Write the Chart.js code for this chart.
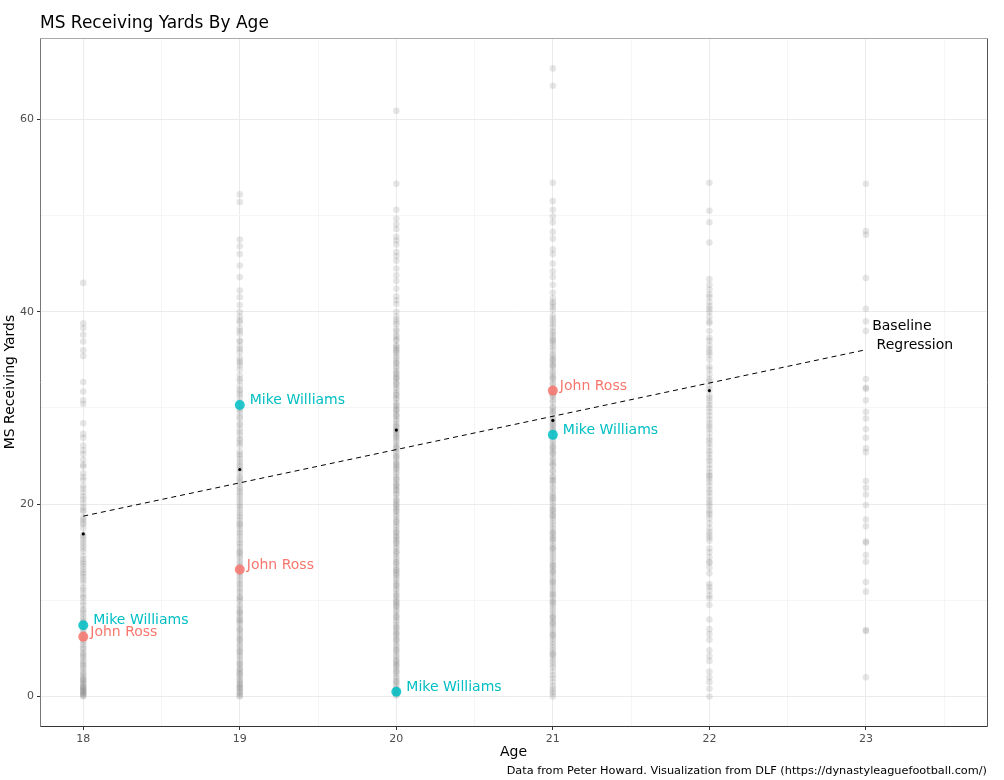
<!DOCTYPE html>
<html>
<head>
<meta charset="utf-8">
<script src="https://cdn.jsdelivr.net/npm/chart.js@4.4.1/dist/chart.umd.min.js"></script>
<style>
  html, body { margin: 0; padding: 0; background: #ffffff; }
  #wrap { width: 1004px; height: 780px; }
</style>
</head>
<body>
<div id="wrap"><canvas id="c" width="1004" height="780"></canvas></div>
<script>
// ---------- DATA ----------
const ages = [18, 19, 20, 21, 22, 23];

const age18Values = [43.0, 38.8, 38.3, 37.6, 36.9, 36.0, 35.4, 32.7, 31.7, 30.8, 30.4, 28.4, 27.3, 26.9, 26.1, 25.2, 24.6, 23.9, 23.2, 22.5, 21.9, 21.2, 20.5, 20.1, 19.7, 19.2, 18.6, 18.1, 17.5, 16.8, 16.3, 15.7, 15.1, 14.6, 14.0, 13.5, 12.9, 12.4, 11.8, 11.3, 10.7, 10.2, 9.8, 9.1, 8.6, 8.0, 7.6, 7.0, 6.5, 5.9, 5.4, 4.9, 4.4, 4.0, 3.5, 3.1, 2.6, 2.2, 1.8, 1.4, 1.1, 0.8, 0.5, 0.3, 0.1, 0.0, 0.6, 1.6, 2.4, 3.3, 4.6, 5.1, 6.8, 8.3, 9.5, 12.1, 13.8, 15.4, 17.9, 19.4, 21.6, 24.1, 0.2, 0.9, 1.3,
  0.4, 0.7, 1.0, 1.7, 2.0, 2.9, 3.7, 4.2, 5.7, 6.2, 7.3, 7.8, 8.9, 10.4, 11.1, 12.7, 13.2, 14.3, 16.0, 16.6, 18.4, 20.8, 22.8, 25.6];

const age19Values = [52.2, 51.4, 47.5, 46.8, 46.0, 44.8, 43.6, 42.2, 40.7, 40.0, 39.5, 38.9, 38.3, 37.7, 37.0, 36.4, 35.8, 35.2, 34.7, 34.0, 33.4, 32.8, 32.3, 31.7, 31.1, 30.6, 30.0, 29.5, 28.9, 28.4, 27.8, 27.2, 26.6, 26.1, 25.5, 25.0, 24.4, 23.9, 23.3, 22.7, 22.2, 21.6, 21.1, 20.5, 19.9, 19.4, 18.8, 18.3, 17.7, 17.1, 16.6, 16.0, 15.5, 14.9, 14.4, 13.8, 13.2, 12.7, 12.1, 11.6, 11.0, 10.4, 9.9, 9.3, 8.8, 8.2, 7.7, 7.1, 6.5, 6.0, 5.4, 4.9, 4.3, 3.8, 3.2, 2.6, 2.1, 1.5, 1.0, 0.6, 0.3, 0.0, 36.9, 34.4, 31.9, 29.1, 27.5, 26.3, 24.7, 23.6, 22.4, 21.3, 20.2, 19.1, 18.0, 16.9, 15.8, 14.6, 13.5, 12.4, 11.3, 10.1, 9.0, 7.9, 6.8, 5.7, 4.6, 3.5, 2.4, 1.3, 0.8, 0.4, 17.4, 15.2, 8.5, 2.9, 1.8,
  0.1, 0.9, 1.2, 1.7, 2.3, 2.8, 3.4, 4.1, 4.7, 5.2, 5.9, 6.3, 7.0, 7.5, 8.0, 8.7, 9.5, 10.3, 10.8, 11.8, 12.9, 14.0, 15.0, 16.3, 17.9, 18.6, 19.7, 20.8, 21.8, 22.9, 24.1, 25.2, 26.8, 28.2, 29.8, 31.4, 33.0, 34.9, 36.1, 38.0, 39.1, 41.5];

const age20Values = [60.9, 53.3, 50.6, 49.7, 48.6, 47.8, 47.0, 46.2, 45.3, 44.5, 43.2, 42.4, 41.6, 40.8, 40.0, 39.2, 38.7, 38.2, 37.6, 37.1, 36.5, 36.0, 35.4, 34.9, 34.3, 33.8, 33.2, 32.7, 32.1, 31.6, 31.0, 30.5, 29.9, 29.4, 28.8, 28.3, 27.7, 27.2, 26.6, 26.1, 25.5, 25.0, 24.4, 23.9, 23.3, 22.8, 22.2, 21.7, 21.1, 20.6, 20.0, 19.5, 18.9, 18.4, 17.8, 17.3, 16.7, 16.2, 15.6, 15.1, 14.5, 14.0, 13.4, 12.9, 12.3, 11.8, 11.2, 10.7, 10.1, 9.6, 9.0, 8.5, 7.9, 7.4, 6.8, 6.3, 5.7, 5.2, 4.6, 4.1, 3.5, 3.0, 2.4, 1.9, 1.3, 0.8, 0.4, 0.1, 38.9, 37.4, 35.7, 34.6, 33.5, 32.4, 31.3, 30.2, 29.1, 28.0, 26.9, 25.8, 24.7, 23.6, 22.5, 21.4, 20.3, 19.2, 18.1, 17.0, 15.9, 14.8, 13.7, 12.6, 11.5, 10.4, 9.3, 8.2, 7.1, 6.0, 4.9, 3.8, 2.7, 1.6, 0.6, 36.2, 33.0, 29.7, 27.4, 24.1, 21.9, 19.7, 16.4, 13.1, 9.8, 6.5, 3.3,
  0.2, 0.5, 1.0, 1.5, 2.1, 2.6, 3.2, 3.7, 4.3, 4.8, 5.4, 5.9, 6.6, 7.2, 7.7, 8.3, 8.8, 9.4, 9.9, 10.5, 11.0, 11.6, 12.1, 12.7, 13.2, 13.9, 14.3, 15.0, 15.4, 16.0, 16.6, 17.1, 17.6, 18.2, 18.7, 19.3, 19.9, 20.4, 21.0, 21.5, 22.0, 22.6, 23.1, 23.7, 24.2, 24.9, 25.3, 25.9, 26.4, 27.0, 27.6, 28.1, 28.6, 29.2, 29.8, 30.3, 30.9, 31.4, 31.9, 32.5, 33.1, 33.6, 34.1, 34.7, 35.2, 35.9, 36.4, 37.0, 38.0, 39.5, 41.2, 43.8, 45.8, 47.4, 49.1];

const age21Values = [65.3, 63.5, 53.4, 51.5, 50.6, 49.9, 49.3, 47.6, 46.5, 45.0, 43.6, 42.8, 42.0, 41.4, 40.8, 40.2, 39.6, 39.0, 38.4, 37.8, 37.2, 36.6, 36.0, 35.4, 34.8, 34.2, 33.6, 33.0, 32.4, 31.8, 31.2, 30.6, 30.0, 29.4, 28.8, 28.2, 27.6, 27.0, 26.4, 25.8, 25.2, 24.6, 24.0, 23.4, 22.8, 22.2, 21.6, 21.0, 20.4, 19.8, 19.2, 18.6, 18.0, 17.4, 16.8, 16.2, 15.6, 15.0, 14.4, 13.8, 13.2, 12.6, 12.0, 11.4, 10.8, 10.2, 9.6, 9.0, 8.4, 7.8, 7.2, 6.6, 6.0, 5.4, 4.8, 4.2, 3.6, 3.0, 2.2, 1.5, 0.8, 0.3, 0.0, 40.5, 38.7, 36.9, 35.1, 33.3, 31.5, 29.7, 27.9, 26.1, 24.3, 22.5, 20.7, 18.9, 17.1, 15.3, 13.5, 11.7, 9.9, 8.1, 6.3, 4.5, 37.5, 34.5, 28.5, 25.5, 19.5, 16.5, 13.0, 10.5, 7.5,
  0.5, 1.1, 1.9, 2.6, 3.3, 3.9, 4.4, 5.1, 5.7, 6.4, 6.9, 7.6, 8.2, 8.7, 9.3, 9.8, 10.6, 11.1, 11.9, 12.3, 12.9, 13.6, 14.1, 14.7, 15.4, 15.9, 16.4, 17.0, 17.7, 18.3, 18.8, 19.4, 20.1, 20.6, 21.2, 21.8, 22.4, 22.9, 23.5, 24.1, 24.8, 25.3, 25.9, 26.6, 27.1, 27.7, 28.3, 28.9, 29.5, 30.1, 30.8, 31.3, 32.0, 32.6, 33.1, 33.8, 34.4, 35.0, 35.6, 36.3, 37.0, 38.0, 39.3, 41.0, 44.2, 46.0, 48.3];

const age22Values = [53.4, 50.5, 49.3, 47.2, 43.4, 42.8, 42.3, 41.8, 41.0, 40.3, 39.5, 38.8, 38.0, 37.3, 36.5, 35.8, 35.0, 34.3, 33.5, 32.8, 31.9, 31.0, 30.3, 29.6, 28.8, 28.1, 27.4, 26.6, 25.9, 25.2, 24.5, 23.7, 23.0, 22.3, 21.5, 20.8, 20.1, 19.4, 18.9, 18.0, 17.1, 16.2, 15.4, 14.5, 13.4, 11.7, 11.0, 10.5, 9.5, 8.0, 7.0, 5.9, 4.8, 3.7, 2.6, 1.5, 0.8, 0.0, 40.6, 36.1, 33.0, 30.7, 28.4, 26.9, 25.5, 24.1, 22.6, 21.2, 19.8, 16.8, 14.0,
  10.2, 11.4, 12.8, 13.9, 15.0, 16.5, 17.5, 18.5, 19.1, 20.4, 21.9, 22.9, 23.3, 24.8, 26.3, 27.8, 29.2, 30.0, 31.3, 32.3, 34.0, 35.5, 37.0, 39.0, 40.0, 41.5, 2.0, 4.2, 6.5];

const age23Values = [53.3, 48.4, 48.0, 43.5, 40.3, 39.0, 38.0, 33.0, 32.1, 32.0, 30.8, 29.6, 28.9, 27.8, 26.9, 25.8, 25.4, 22.4, 21.7, 21.0, 19.9, 18.4, 17.7, 16.0, 16.1, 14.7, 14.0, 11.9, 10.9, 6.8, 6.9, 2.0];

const meanAges = [18, 19, 20, 21, 22];
const meanValues = [16.9, 23.6, 27.7, 28.7, 31.8];

const regressionAges = [18, 23];
const regressionValues = [18.75, 36.05];

const johnRossAges = [18, 19, 21];
const johnRossValues = [6.2, 13.2, 31.8];
const mikeWilliamsAges = [18, 19, 20, 21];
const mikeWilliamsValues = [7.4, 30.3, 0.5, 27.2];

const xTickLabels = ['18', '19', '20', '21', '22', '23'];
const yTickLabels = ['0', '20', '40', '60'];

const titleText = 'MS Receiving Yards By Age';
const xTitleText = 'Age';
const yTitleText = 'MS Receiving Yards';
const captionText = 'Data from Peter Howard. Visualization from DLF (https://dynastyleaguefootball.com/)';
const regressionLabelLines = ['Baseline', ' Regression'];
const regressionLabelPos = { x: 23.04, y: 38.05 };

// ---------- BUILD ----------
const FONT = '"DejaVu Sans", "Liberation Sans", sans-serif';
const allValues = [age18Values, age19Values, age20Values, age21Values, age22Values, age23Values];
const grayPoints = [];
allValues.forEach((arr, i) => arr.forEach(v => grayPoints.push({ x: ages[i], y: v })));

const zip = (xs, ys) => xs.map((x, i) => ({ x, y: ys[i] }));

const JR = '#F8766D', MW = '#00BFC4';

const textPlugin = {
  id: 'ggText',
  afterDatasetsDraw(chart) {
    const { ctx, chartArea: a, scales } = chart;
    const xs = scales.x, ys = scales.y;
    ctx.save();
    ctx.font = '14px ' + FONT;
    ctx.textBaseline = 'middle';
    ctx.textAlign = 'left';
    ctx.fillStyle = JR;
    johnRossAges.forEach((x, i) => {
      ctx.fillText('John Ross', xs.getPixelForValue(x) + 7, ys.getPixelForValue(johnRossValues[i]) - 4.5);
    });
    ctx.fillStyle = MW;
    mikeWilliamsAges.forEach((x, i) => {
      ctx.fillText('Mike Williams', xs.getPixelForValue(x) + 10, ys.getPixelForValue(mikeWilliamsValues[i]) - 4.5);
    });
    ctx.fillStyle = '#000';
    ctx.textBaseline = 'alphabetic';
    const rx = xs.getPixelForValue(regressionLabelPos.x);
    const ry = ys.getPixelForValue(regressionLabelPos.y);
    regressionLabelLines.forEach((t, i) => ctx.fillText(t, rx, ry + i * 19));
    ctx.lineWidth = 1;
    const L = a.left - 0.5, R = a.right - 0.5, T = a.top + 0.5, B = a.bottom + 0.5;
    ctx.strokeStyle = '#aaaaaa';
    ctx.beginPath(); ctx.moveTo(L, T); ctx.lineTo(R, T); ctx.stroke();
    ctx.strokeStyle = '#777777';
    ctx.beginPath(); ctx.moveTo(L, T); ctx.lineTo(L, B); ctx.stroke();
    ctx.strokeStyle = '#555555';
    ctx.beginPath(); ctx.moveTo(R, T); ctx.lineTo(R, B); ctx.stroke();
    ctx.strokeStyle = '#333333';
    ctx.beginPath(); ctx.moveTo(L, B); ctx.lineTo(R, B); ctx.stroke();
    ctx.restore();
  },
  afterDraw(chart) {
    const { ctx, chartArea: a } = chart;
    ctx.save();
    ctx.fillStyle = '#000';
    ctx.textBaseline = 'alphabetic';
    ctx.font = '17px ' + FONT;
    ctx.textAlign = 'left';
    ctx.fillText(titleText, 40, 28);
    ctx.font = '14px ' + FONT;
    ctx.textAlign = 'center';
    ctx.fillText(xTitleText, (a.left + a.right) / 2 - 1, 755.5);
    ctx.save();
    ctx.translate(14, (a.top + a.bottom) / 2);
    ctx.rotate(-Math.PI / 2);
    ctx.fillText(yTitleText, 0, 0);
    ctx.restore();
    ctx.font = '11.3px ' + FONT;
    ctx.textAlign = 'right';
    ctx.fillText(captionText, 987, 774);
    ctx.restore();
  }
};

const isMajorX = v => Math.abs(v - Math.round(v)) < 1e-6;
const isMajorY = v => Math.abs(v / 20 - Math.round(v / 20)) < 1e-6;

new Chart(document.getElementById('c'), {
  type: 'scatter',
  data: {
    datasets: [
      {
        label: 'all',
        data: grayPoints,
        pointRadius: 3.3,
        pointBackgroundColor: 'rgba(128,128,128,0.2)',
        pointBorderWidth: 0,
        pointBorderColor: 'rgba(0,0,0,0)',
        order: 5
      },
      {
        label: 'regression',
        type: 'line',
        data: zip(regressionAges, regressionValues),
        borderColor: '#000',
        borderWidth: 1,
        borderDash: [5, 4],
        pointRadius: 0,
        fill: false,
        order: 4
      },
      {
        label: 'means',
        data: zip(meanAges, meanValues),
        pointRadius: 1.6,
        pointBackgroundColor: '#000',
        pointBorderWidth: 0,
        order: 3
      },
      {
        label: 'John Ross',
        data: zip(johnRossAges, johnRossValues),
        pointRadius: 5,
        pointBackgroundColor: 'rgba(248,118,109,0.85)',
        pointBorderWidth: 0,
        order: 2
      },
      {
        label: 'Mike Williams',
        data: zip(mikeWilliamsAges, mikeWilliamsValues),
        pointRadius: 5,
        pointBackgroundColor: 'rgba(0,191,196,0.85)',
        pointBorderWidth: 0,
        order: 1
      }
    ]
  },
  options: {
    responsive: false,
    animation: false,
    devicePixelRatio: 1,
    layout: { padding: { left: 0, top: 38, right: 16, bottom: 0 } },
    plugins: {
      legend: { display: false },
      tooltip: { enabled: false },
      title: { display: false }
    },
    scales: {
      x: {
        type: 'linear',
        min: 17.73,
        max: 23.78,
        afterFit: s => { s.height = 54; },
        border: { display: false },
        ticks: {
          stepSize: 0.5,
          includeBounds: false,
          autoSkip: false,
          maxRotation: 0,
          padding: 3,
          color: '#4d4d4d',
          font: { family: FONT, size: 11 },
          callback: v => isMajorX(v) ? xTickLabels[ages.indexOf(Math.round(v))] : ''
        },
        grid: {
          color: c => isMajorX(c.tick.value) ? '#ebebeb' : '#f5f5f5',
          lineWidth: 1,
          tickColor: c => isMajorX(c.tick.value) ? '#333333' : 'rgba(0,0,0,0)',
          tickLength: 4,
          tickWidth: 1
        }
      },
      y: {
        type: 'linear',
        min: -3.07,
        max: 68.46,
        afterFit: s => { s.width = 41; },
        border: { display: false },
        ticks: {
          stepSize: 10,
          includeBounds: false,
          autoSkip: false,
          padding: 3,
          color: '#4d4d4d',
          font: { family: FONT, size: 11 },
          callback: v => isMajorY(v) ? yTickLabels[Math.round(v / 20)] : ''
        },
        grid: {
          color: c => isMajorY(c.tick.value) ? '#ebebeb' : '#f5f5f5',
          lineWidth: 1,
          tickColor: c => isMajorY(c.tick.value) ? '#333333' : 'rgba(0,0,0,0)',
          tickLength: 4,
          tickWidth: 1
        }
      }
    }
  },
  plugins: [textPlugin]
});
</script>
</body>
</html>
